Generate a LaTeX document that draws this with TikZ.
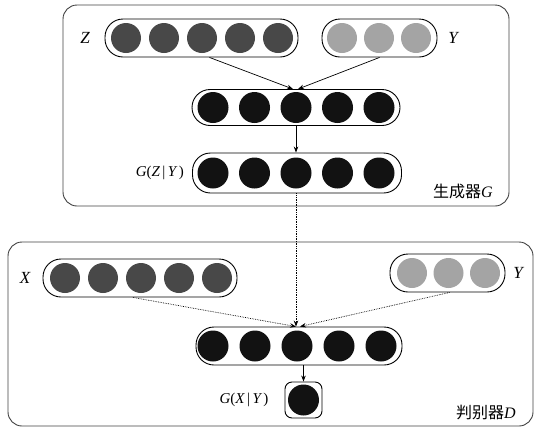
\documentclass[tikz,border=0pt]{standalone}
\usepackage{fontspec}
\setmainfont{Liberation Serif}
\newfontfamily\cjk{Noto Sans CJK SC}
\usetikzlibrary{arrows.meta,calc}

\definecolor{inputgray}{HTML}{484848}
\definecolor{condgray}{HTML}{A4A4A4}
\definecolor{hiddenblack}{HTML}{121212}

\tikzset{
  panel/.style={draw=black!75, line width=0.9pt, rounded corners=14pt},
  pill/.style={draw=black, line width=0.9pt, rounded corners=18pt, inner sep=0pt},
  unit/.style={circle, inner sep=0pt, minimum size=30pt},
  inunit/.style={unit, fill=inputgray},
  condunit/.style={unit, fill=condgray},
  hidunit/.style={unit, fill=hiddenblack, minimum size=31pt},
  lbl/.style={font=\fontsize{17}{19}\selectfont\itshape, inner sep=0pt},
  title/.style={font=\fontsize{16}{18}\selectfont, inner sep=0pt},
  link/.style={-{Stealth[length=6pt,width=4.5pt]}, line width=0.7pt},
  dlink/.style={link, densely dotted},
}

\begin{document}
\begin{tikzpicture}[x=1pt,y=-1pt]
\useasboundingbox (0,0) rectangle (536,429);

% ---------------- generator G ----------------
\draw[panel] (63,5) rectangle (509,206);

% noise Z
\node[pill, minimum width=193pt, minimum height=38pt] (zp) at (201.5,38) {};
\foreach \i/\x in {1/126,2/164,3/202,4/240,5/278}
  \node[inunit] (z\i) at (\x,38) {};
\node[lbl] (zl) at (85,38) {Z};

% condition Y
\node[pill, minimum width=115pt, minimum height=38pt] (yp) at (379.5,38) {};
\foreach \i/\x in {1/342,2/379,3/416}
  \node[condunit] (y\i) at (\x,38) {};
\node[lbl] (yl) at (453,38) {Y};

% hidden layer
\node[pill, minimum width=208pt, minimum height=36pt] (mp) at (296,107.5) {};
\foreach \i/\x in {1/213,2/254.5,3/296,4/337.5,5/379}
  \node[hidunit] (m\i) at (\x,107.5) {};

% output G(Z|Y)
\node[pill, minimum width=209pt, minimum height=40pt] (gp) at (297,173) {};
\foreach \i/\x in {1/213,2/254.5,3/296,4/337.5,5/379}
  \node[hidunit] (g\i) at (\x,173) {};
\node[lbl, anchor=east, font=\fontsize{15}{17}\selectfont\itshape] (gl) at (184,173) {G\upshape(\itshape Z\upshape\,|\,\itshape Y\upshape\,)};

\node[title, anchor=east] (gt) at (493,191) {{\cjk 生成器}\textit{G}};

\draw[link] ([xshift=8pt]zp.south) -- ([xshift=-3pt]mp.north);
\draw[link] (yp.south) -- ([xshift=2pt]mp.north);
\draw[link] (m3.south |- mp.south) -- (m3.south |- gp.north);

% ---------------- discriminator D ----------------
\draw[panel] (8,242) rectangle (533,426);

% real data X
\node[pill, minimum width=194pt, minimum height=38pt] (xp) at (140,278) {};
\foreach \i/\x in {1/65,2/103,3/141,4/179,5/217}
  \node[inunit] (x\i) at (\x,278) {};
\node[lbl] (xl) at (25,278) {X};

% condition Y
\node[pill, minimum width=115pt, minimum height=38pt] (dyp) at (447.5,273) {};
\foreach \i/\x in {1/412,2/448.5,3/485}
  \node[condunit] (dy\i) at (\x,273) {};
\node[lbl] (dyl) at (518,273) {Y};

% hidden layer
\node[pill, minimum width=206pt, minimum height=38pt] (dp) at (299,346) {};
\foreach \i/\x in {1/213,2/255,3/297,4/339,5/381}
  \node[hidunit] (d\i) at (\x,346) {};

% single output unit
\node[draw=black, line width=0.9pt, rounded corners=7pt, minimum width=37pt, minimum height=36pt, inner sep=0pt] (ob) at (303.5,400) {};
\node[hidunit] (o1) at (303.5,400) {};
\node[lbl, font=\fontsize{15}{17}\selectfont\itshape] (ol) at (244,400) {G\upshape(\itshape X\upshape\,|\,\itshape Y\upshape\,)};

\node[title, anchor=east] (dt) at (516,413) {{\cjk 判别器}\textit{D}};

\draw[dlink] (g3.south |- gp.south) -- (g3.south |- dp.north);
\draw[dlink] ([xshift=-7pt]xp.south) -- ([xshift=-3pt]dp.north);
\draw[dlink] ([xshift=2pt]dyp.south) -- ([xshift=1pt]dp.north);
\draw[link] (ob.north |- dp.south) -- (ob.north);
\end{tikzpicture}
\end{document}
